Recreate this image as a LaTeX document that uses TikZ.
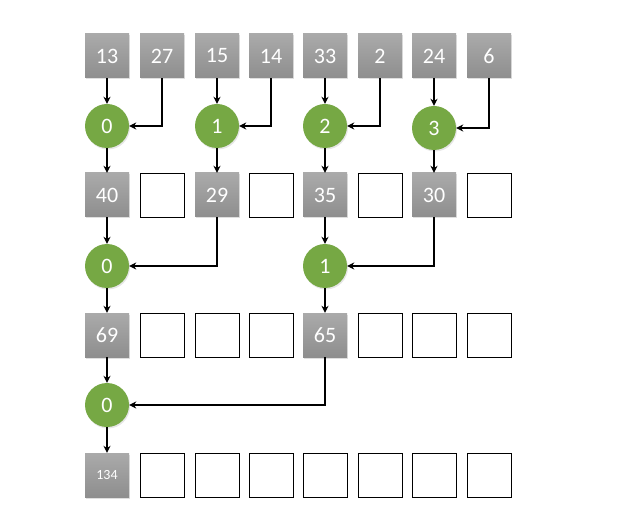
\documentclass[tikz,border=0pt]{standalone}
\usepackage{fontspec}
\setmainfont{Carlito}
\usetikzlibrary{arrows.meta,shadows}
\definecolor{gtop}{HTML}{AAAAAA}
\definecolor{gbot}{HTML}{8E8E8E}
\definecolor{gfill}{HTML}{76A844}
\tikzset{
  gbox/.style={rectangle, minimum width=44pt, minimum height=44pt, inner sep=0pt,
    top color=gtop, bottom color=gbot, draw=none, text=white,
    font=\fontsize{22}{26}\selectfont, drop shadow={shadow xshift=1pt, shadow yshift=-1.5pt, opacity=0.25}},
  ebox/.style={rectangle, minimum width=44pt, minimum height=44pt, inner sep=0pt, draw=black, line width=0.8pt, fill=white},
  gcirc/.style={circle, minimum size=44pt, inner sep=0pt, fill=gfill, text=white,
    font=\fontsize{22}{26}\selectfont, drop shadow={shadow xshift=1pt, shadow yshift=-1.5pt, opacity=0.2}},
  arr/.style={-{Stealth[length=7pt,width=7pt]}, line width=1.4pt, black},
}
\begin{document}
\begin{tikzpicture}[x=1pt,y=-1pt]
\useasboundingbox (0,0) rectangle (628,510);
% row 1
\node[gbox] (a1) at (107,56) {13};
\node[gbox] (a2) at (162,56) {27};
\node[gbox] (a3) at (217,56) {15};
\node[gbox] (a4) at (271,56) {14};
\node[gbox] (a5) at (325,56) {33};
\node[gbox] (a6) at (380,56) {2};
\node[gbox] (a7) at (434,56) {24};
\node[gbox] (a8) at (489,56) {6};
% circles 1
\node[gcirc] (c10) at (107,126) {0};
\node[gcirc] (c11) at (217,126) {1};
\node[gcirc] (c12) at (325,126) {2};
\node[gcirc] (c13) at (434,128) {3};
% row 2
\node[gbox] (b1) at (107,195) {40};
\node[ebox] (b2) at (162,195) {};
\node[gbox] (b3) at (217,195) {29};
\node[ebox] (b4) at (271,195) {};
\node[gbox] (b5) at (325,195) {35};
\node[ebox] (b6) at (380,195) {};
\node[gbox] (b7) at (434,195) {30};
\node[ebox] (b8) at (489,195) {};
% circles 2
\node[gcirc] (c20) at (107,266) {0};
\node[gcirc] (c21) at (325,266) {1};
% row 3
\node[gbox] (r1) at (107,335) {69};
\node[ebox] (r2) at (162,335) {};
\node[ebox] (r3) at (217,335) {};
\node[ebox] (r4) at (271,335) {};
\node[gbox] (r5) at (325,335) {65};
\node[ebox] (r6) at (380,335) {};
\node[ebox] (r7) at (434,335) {};
\node[ebox] (r8) at (489,335) {};
% circle 3
\node[gcirc] (c30) at (107,405) {0};
% row 4
\node[gbox, font=\fontsize{14}{17}\selectfont] (d1) at (107,475) {134};
\node[ebox] (d2) at (162,475) {};
\node[ebox] (d3) at (217,475) {};
\node[ebox] (d4) at (271,475) {};
\node[ebox] (d5) at (325,475) {};
\node[ebox] (d6) at (380,475) {};
\node[ebox] (d7) at (434,475) {};
\node[ebox] (d8) at (489,475) {};
% connectors level 1
\draw[arr] (a1.south) -- (c10.north);
\draw[arr] (a2.south) |- (c10.east);
\draw[arr] (a3.south) -- (c11.north);
\draw[arr] (a4.south) |- (c11.east);
\draw[arr] (a5.south) -- (c12.north);
\draw[arr] (a6.south) |- (c12.east);
\draw[arr] (a7.south) -- (c13.north);
\draw[arr] (a8.south) |- (c13.east);
\draw[arr] (c10.south) -- (b1.north);
\draw[arr] (c11.south) -- (b3.north);
\draw[arr] (c12.south) -- (b5.north);
\draw[arr] (c13.south) -- (b7.north);
% level 2
\draw[arr] (b1.south) -- (c20.north);
\draw[arr] (b3.south) |- (c20.east);
\draw[arr] (b5.south) -- (c21.north);
\draw[arr] (b7.south) |- (c21.east);
\draw[arr] (c20.south) -- (r1.north);
\draw[arr] (c21.south) -- (r5.north);
% level 3
\draw[arr] (r1.south) -- (c30.north);
\draw[arr] (r5.south) |- (c30.east);
\draw[arr] (c30.south) -- (d1.north);
\end{tikzpicture}
\end{document}
